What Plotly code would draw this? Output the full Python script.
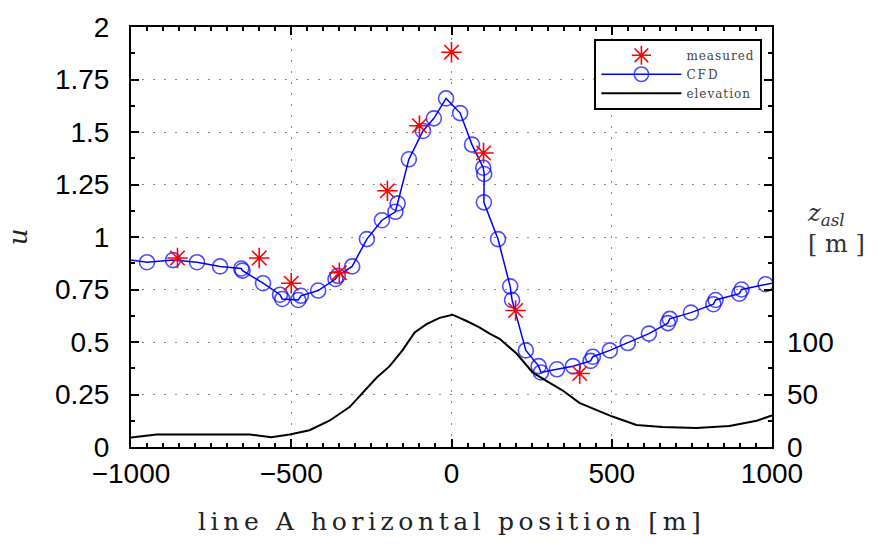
import plotly.graph_objects as go

# measured wind speed
meas_x = [-855, -600, -500, -350, -200, -100, 0, 100, 200, 400]
meas_u = [0.90, 0.90, 0.78, 0.83, 1.22, 1.53, 1.88, 1.40, 0.65, 0.35]

# CFD results (line A)
cfd_x = [-1000, -950, -869, -794, -722, -656, -652, -588, -535, -528, -478, -470,
         -416, -362, -355, -310, -264, -217, -175, -168, -133, -89, -55, -17,
         27, 64, 99, 102, 101, 145, 183, 189, 232, 272, 279, 329, 379, 434,
         441, 494, 550, 616, 675, 681, 747, 817, 824, 898, 905, 980, 1000]
cfd_u = [0.89, 0.88, 0.89, 0.88, 0.86, 0.85, 0.84, 0.78, 0.725, 0.705, 0.70, 0.72,
         0.745, 0.80, 0.815, 0.86, 0.99, 1.08, 1.12, 1.16, 1.37, 1.505, 1.565, 1.66,
         1.59, 1.44, 1.33, 1.30, 1.165, 0.99, 0.765, 0.70, 0.46, 0.385, 0.355, 0.37, 0.385, 0.41,
         0.43, 0.46, 0.495, 0.54, 0.59, 0.61, 0.64, 0.68, 0.70, 0.73, 0.75, 0.775, 0.78]

# terrain elevation above sea level [m]
elev_x = [-1000, -920, -817, -630, -562, -505, -443, -381, -318, -278, -234, -193,
          -153, -115, -78, -37, 3, 47, 87, 119, 150, 203, 253, 296, 346, 399, 452,
          502, 577, 658, 764, 867, 952, 1000]
elev_z = [9, 12, 12, 12, 9.4, 12, 16, 25, 38, 51, 66, 77, 92, 109, 117, 123, 126,
          120, 114, 108, 103, 89, 71, 63, 54, 42, 35, 29, 21, 19, 18, 20, 25, 30]

u_ticks = [0, 0.25, 0.5, 0.75, 1, 1.25, 1.5, 1.75, 2]
u_ticktext = ["0", "0.25", "0.5", "0.75", "1", "1.25", "1.5", "1.75", "2"]
x_ticks = [-1000, -500, 0, 500, 1000]
x_ticktext = ["\u22121000", "\u2212500", "0", "500", "1000"]
z_ticks = [0, 50, 100, 150, 200, 250, 300, 350, 400]
z_ticktext = ["0", "50", "100", "", "", "", "", "", ""]
z_minor = [25, 75, 125, 175, 225, 275, 325, 375]

cfd_sizes = [0 if abs(x) >= 1000 else 15 for x in cfd_x]

tickfont = dict(family="Liberation Sans, Arial", size=28, color="black")
serif = "DejaVu Serif"


def spaced(t, px):
    return '<span style="letter-spacing:%spx">%s</span>' % (px, t)


fig = go.Figure()
fig.add_trace(go.Scatter(
    x=meas_x, y=meas_u, mode="markers", name=spaced("measured", 1), xaxis="x2",
    marker=dict(symbol="asterisk-open", size=17, color="red",
                line=dict(color="red", width=1.6)),
))
fig.add_trace(go.Scatter(
    x=cfd_x, y=cfd_u, mode="lines+markers", name=spaced("CFD", 2),
    line=dict(color="blue", width=1.5),
    marker=dict(symbol="circle-open", size=cfd_sizes, color="blue",
                line=dict(color="blue", width=1.6)),
))
fig.add_trace(go.Scatter(
    x=elev_x, y=elev_z, mode="lines", name=spaced("elevation", 1), yaxis="y2",
    line=dict(color="black", width=2),
))

grid = dict(showgrid=True, gridcolor="#888", griddash="2px,9px", gridwidth=1)

fig.update_layout(
    width=878, height=544,
    margin=dict(l=131, r=106, t=23, b=97),
    paper_bgcolor="white", plot_bgcolor="white",
    showlegend=True,
    legend=dict(
        x=0.985, y=0.972, xanchor="right", yanchor="top",
        bgcolor="white", bordercolor="black", borderwidth=2,
        font=dict(family=serif, size=12, color="#444"),
        tracegroupgap=0, itemwidth=80,
    ),
    xaxis=dict(
        range=[-1000, 1000], tickvals=x_ticks, ticktext=x_ticktext,
        ticks="inside", ticklen=8, tickwidth=1.5, tickcolor="black",
        showline=True, linecolor="black", linewidth=2, mirror="ticks",
        zeroline=False, tickfont=tickfont, **grid,
        minor=dict(dtick=50, ticks="inside", ticklen=4, tickcolor="black", showgrid=False),
    ),
    xaxis2=dict(
        range=[-1000, 1000], overlaying="x", side="top", matches="x",
        tickvals=x_ticks, showticklabels=False,
        ticks="inside", ticklen=8, tickwidth=1.5, tickcolor="black",
        showgrid=False, zeroline=False, showline=False,
        minor=dict(dtick=50, ticks="inside", ticklen=4, tickcolor="black", showgrid=False),
    ),
    yaxis=dict(
        range=[0, 2], tickvals=u_ticks, ticktext=u_ticktext,
        ticks="inside", ticklen=8, tickwidth=1.5, tickcolor="black",
        showline=True, linecolor="black", linewidth=2, mirror="ticks",
        zeroline=False, tickfont=tickfont, ticklabelstandoff=14, **grid,
        minor=dict(dtick=0.125, ticks="inside", ticklen=4, tickcolor="black", showgrid=False),
    ),
    yaxis2=dict(
        range=[0, 400], overlaying="y", side="right",
        tickvals=z_ticks, ticktext=z_ticktext,
        ticks="inside", ticklen=8, tickwidth=1.5, tickcolor="black",
        showgrid=False, zeroline=False,
        showline=False, tickfont=tickfont, ticklabelstandoff=14,
        minor=dict(tickvals=z_minor, ticks="inside", ticklen=4, tickcolor="black", showgrid=False),
    ),
    annotations=[
        dict(text=spaced("line A horizontal position [m]", 4.6), xref="paper", yref="paper",
             x=0.5, y=-0.177, xanchor="center", yanchor="middle", showarrow=False,
             font=dict(family=serif, size=25, color="#222")),
        dict(text="<i>u</i>", xref="paper", yref="paper", x=-0.176, y=0.5,
             xanchor="center", yanchor="middle", textangle=-90, showarrow=False,
             font=dict(family=serif, size=26, color="#222")),
        dict(text="<i>z</i><sub><i>asl</i></sub><br>[ m ]", xref="paper", yref="paper",
             x=1.1, y=0.52, xanchor="center", yanchor="middle", showarrow=False,
             align="left", font=dict(family=serif, size=24, color="#333")),
    ],
)

fig.write_html("out.html")
